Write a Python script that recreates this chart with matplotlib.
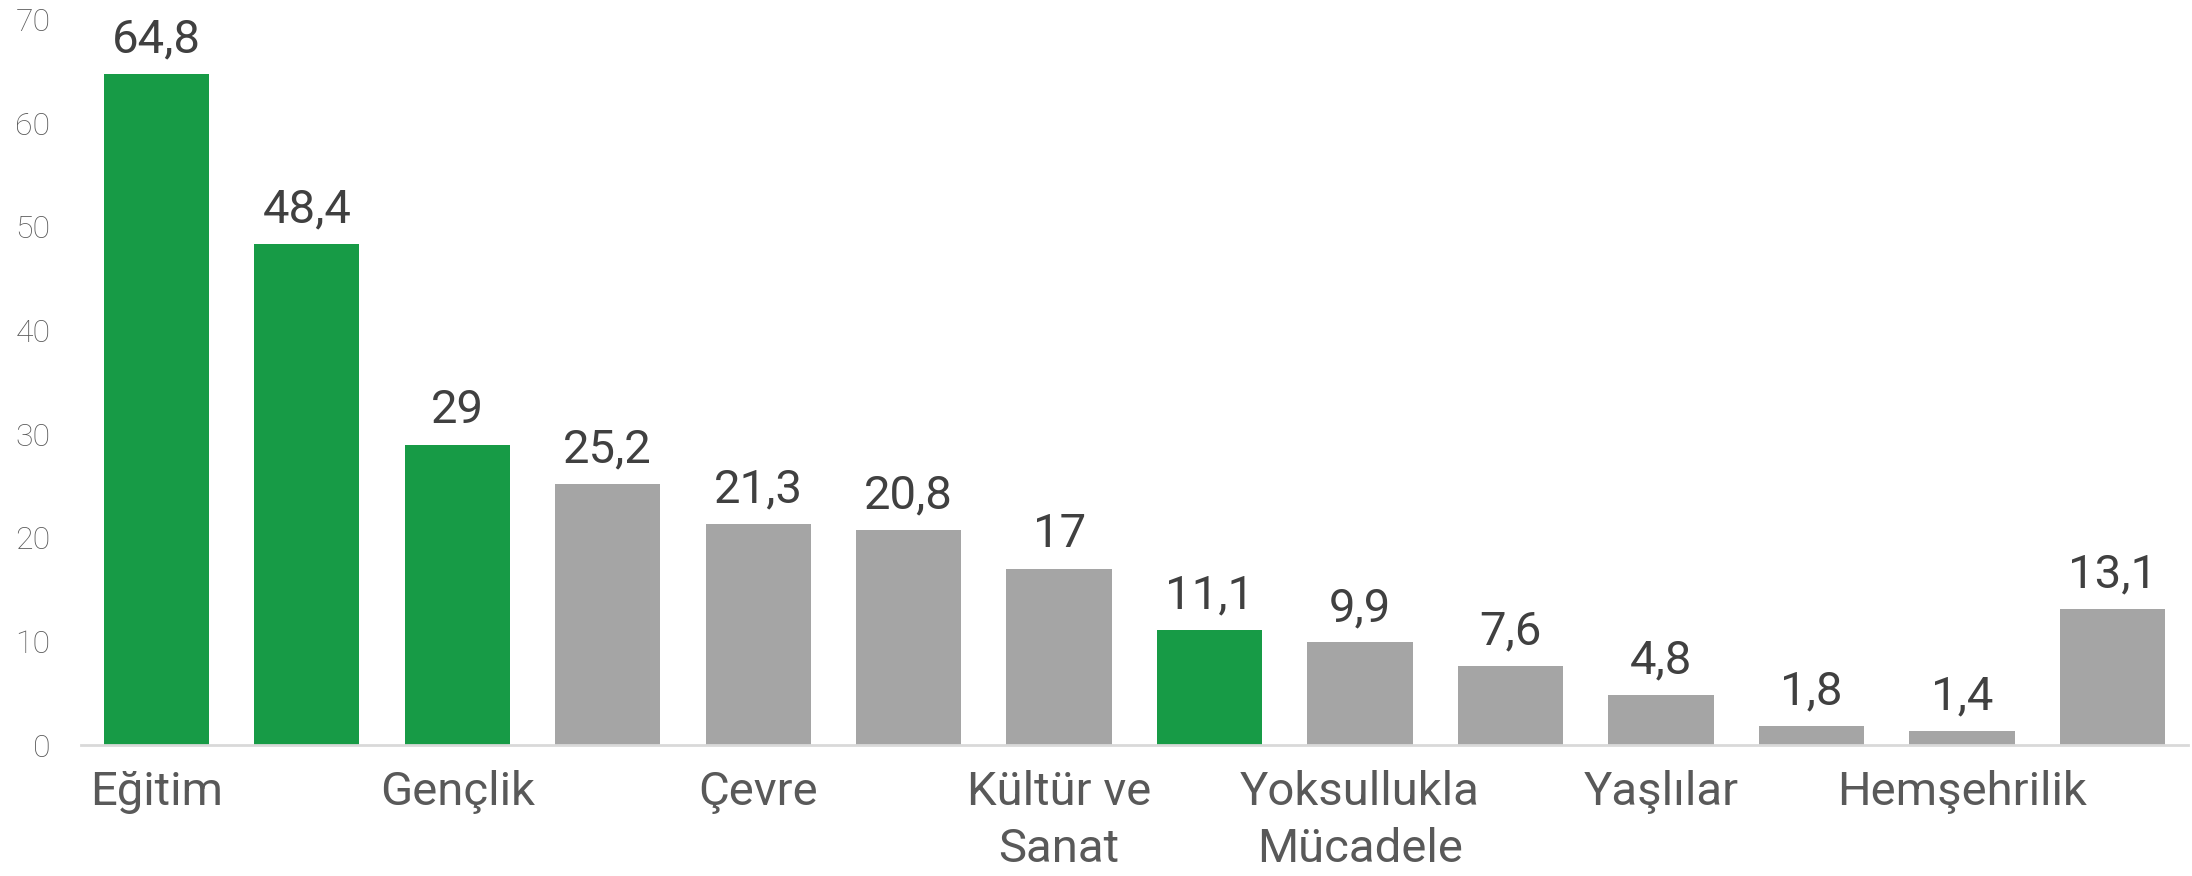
import matplotlib
matplotlib.use("Agg")
import matplotlib.pyplot as plt

categories = ["Eğitim", "", "Gençlik", "", "Çevre", "", "Kültür ve\nSanat", "",
              "Yoksullukla\nMücadele", "", "Yaşlılar", "", "Hemşehrilik", ""]
values = [64.8, 48.4, 29, 25.2, 21.3, 20.8, 17, 11.1, 9.9, 7.6, 4.8, 1.8, 1.4, 13.1]
value_labels = ["64,8", "48,4", "29", "25,2", "21,3", "20,8", "17", "11,1",
                "9,9", "7,6", "4,8", "1,8", "1,4", "13,1"]
highlight = [True, True, True, False, False, False, False, True,
             False, False, False, False, False, False]
yticks = [0, 10, 20, 30, 40, 50, 60, 70]

GREEN = "#179B46"
GRAY = "#A5A5A5"

plt.rcParams['font.family'] = ['Roboto', 'DejaVu Sans']

fig = plt.figure(figsize=(21.92, 8.76), dpi=100)
ax = fig.add_axes([0.037, 0.1495, 0.961, 0.828])

x = list(range(len(values)))
colors = [GREEN if h else GRAY for h in highlight]
ax.bar(x, values, width=0.70, color=colors, zorder=2)

for xi, v, lab in zip(x, values, value_labels):
    ax.annotate(lab, (xi, v), xytext=(0, 9), textcoords="offset points",
                ha="center", va="bottom", fontsize=34, color="#404040")

ax.set_xlim(-0.5, len(values) - 0.5)
ax.set_ylim(0, 70)
ax.set_yticks(yticks)
ax.set_yticklabels([str(t) for t in yticks], fontsize=23, color="#595959",
                   fontweight="light")
ax.set_xticks(x)
ax.set_xticklabels(categories, fontsize=34, color="#595959", linespacing=1.38,
                   va="top")
ax.tick_params(axis="both", length=0)
ax.tick_params(axis="y", pad=22)
ax.tick_params(axis="x", pad=18)

for s in ["top", "right", "left"]:
    ax.spines[s].set_visible(False)
ax.spines["bottom"].set_color("#D9D9D9")
ax.spines["bottom"].set_linewidth(2)

fig.savefig("out.png", dpi=100)
